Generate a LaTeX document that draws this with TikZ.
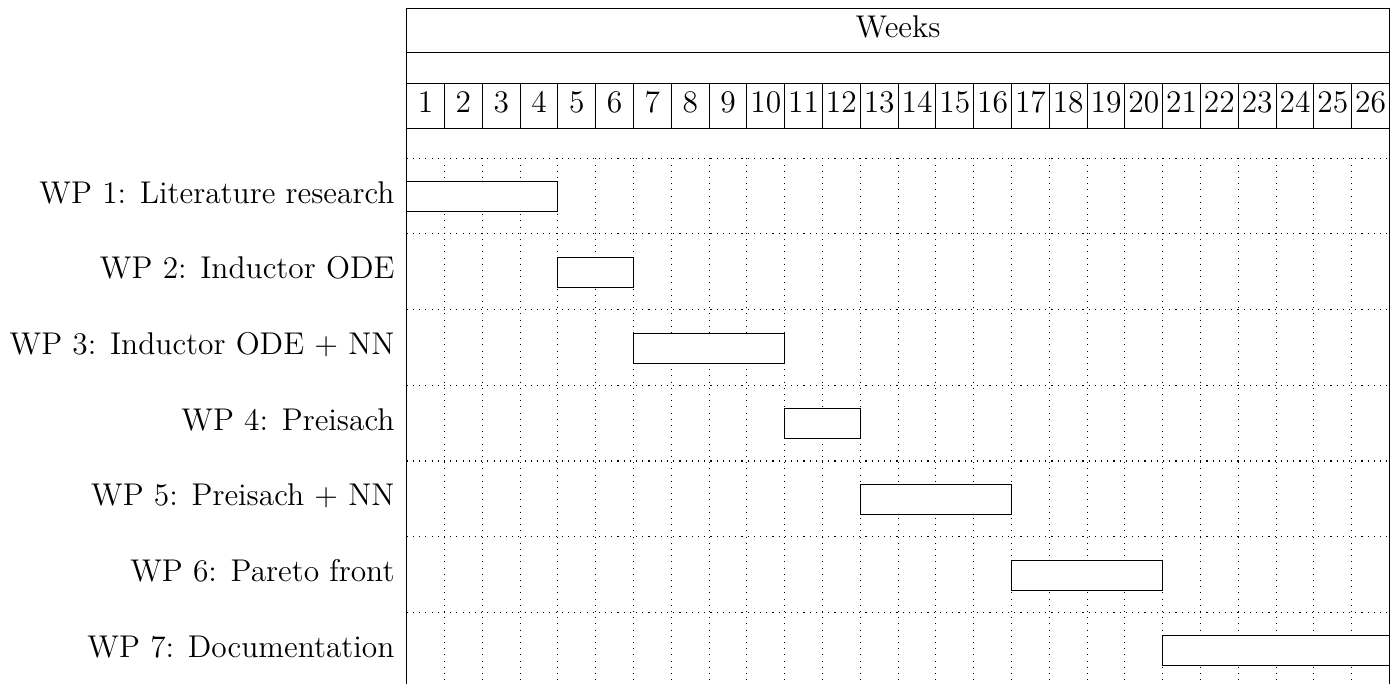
\documentclass[tikz,border=0pt]{standalone}
\begin{document}
\begin{tikzpicture}[x=0.3871pt,y=-0.3871pt,
  every node/.style={font=\fontsize{12.17}{14.6}\selectfont, inner sep=0pt},
  frame/.style={line width=0.4pt},
  gridline/.style={dotted, line width=0.4pt},
  wpbar/.style={draw, fill=white, line width=0.4pt},
  wplabel/.style={anchor=base east},
  weeknum/.style={anchor=base}]
\useasboundingbox (0,0) rectangle (1400,684);
\pgfmathsetmacro{\chL}{406.7}
\pgfmathsetmacro{\chR}{1389.5}
\pgfmathsetmacro{\wk}{37.8}
\pgfmathsetmacro{\rowh}{75.67}

% header: title box and week numbers
\draw[frame] (\chL,8.3) rectangle (\chR,52.7);
\node[anchor=base] (weeks) at ({(\chL+\chR)/2},37.3) {Weeks};
\draw[frame] (\chL,83.3) rectangle (\chR,128.3);
\foreach \i in {1,...,25}
  \draw[frame] ({\chL+\i*\wk},83.3) -- ({\chL+\i*\wk},128.3);
\foreach \i in {1,...,26}
  \node[weeknum] (wk\i) at ({\chL+(\i-0.5)*\wk},112.7) {\i};

% chart borders
\draw[frame] (\chL,8.3) -- (\chL,684);
\draw[frame] (\chR,8.3) -- (\chR,684);

% dotted grid
\foreach \k in {0,...,6}
  \draw[gridline] (\chL,{158.3+\k*\rowh}) -- (\chR,{158.3+\k*\rowh});
\foreach \i in {1,...,25}
  \draw[gridline] ({\chL+\i*\wk},158.3) -- ({\chL+\i*\wk},684);

% work packages
\foreach \n/\s/\e/\txt in {
    1/1/4/{WP 1: Literature research},
    2/5/6/{WP 2: Inductor ODE},
    3/7/10/{WP 3: Inductor ODE $+$ NN},
    4/11/12/{WP 4: Preisach},
    5/13/16/{WP 5: Preisach $+$ NN},
    6/17/20/{WP 6: Pareto front},
    7/21/26/{WP 7: Documentation}} {
  \pgfmathsetmacro{\top}{158.3+(\n-1)*\rowh+23.4}
  \draw[wpbar] ({\chL+(\s-1)*\wk},\top) rectangle ({\chL+\e*\wk},\top+30);
  \node[wplabel] (wp\n) at (395,\top+21.6) {\txt};
}
\end{tikzpicture}
\end{document}
